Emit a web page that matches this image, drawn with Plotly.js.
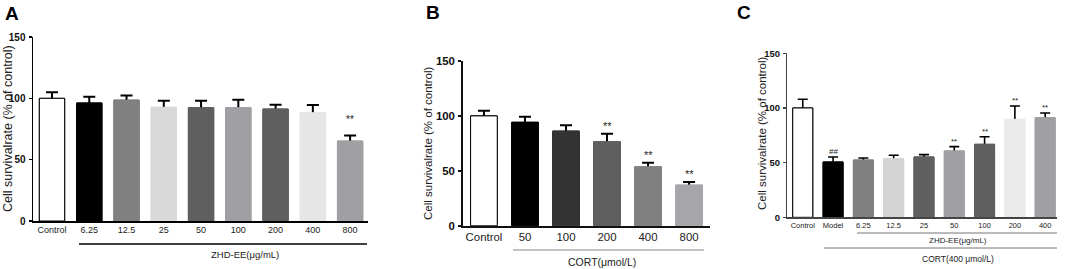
<!DOCTYPE html>
<html><head><meta charset="utf-8">
<script src="https://cdn.plot.ly/plotly-3.0.1.min.js"></script>
<style>html,body{margin:0;padding:0;background:#fff}#chart{width:1065px;height:269px}</style>
</head><body><div id="chart"></div>
<script>
// ---- data ----
const catsA = ['Control','6.25','12.5','25','50','100','200','400','800'];
const valsA = [100, 96.2, 98.6, 92.7, 92.4, 92.4, 91.3, 88.3, 65.2];
const errA  = [4.9, 5.1, 3.7, 5.3, 5.6, 6.5, 3.5, 6.3, 4.6];
const sigA  = ['','','','','','','','','**'];

const catsB = ['Control','50','100','200','400','800'];
const valsB = [100, 94.2, 86.2, 76.5, 53.7, 37.0];
const errB  = [4.7, 5.1, 5.2, 7.3, 3.7, 2.8];
const sigB  = ['','','','**','**','**'];

const catsC = ['Control','Model','6.25','12.5','25','50','100','200','400'];
const valsC = [100, 50.6, 52.4, 53.6, 55.2, 60.7, 66.8, 89.6, 91.1];
const errC  = [8.0, 4.6, 1.8, 3.1, 2.1, 3.9, 6.9, 12.2, 4.3];
const sigC  = ['','##','','','','**','**','**','**'];

const yTicks = [0, 50, 100, 150];
const yTitle = 'Cell survivalrate (% of control)';
const groupA = 'ZHD-EE(μg/mL)';
const groupB = 'CORT(μmol/L)';
const groupC1 = 'ZHD-EE(μg/mL)';
const groupC2 = 'CORT(400 μmol/L)';

// ---- styles ----
const FONT = 'Liberation Sans, Arial, sans-serif';
const colA = ['#ffffff','#000000','#808080','#d9d9d9','#5f5f5f','#a0a0a4','#5f5f5f','#e6e6e6','#a0a0a4'];
const colB = ['#ffffff','#000000','#333333','#5f5f5f','#808080','#a6a6aa'];
const colC = ['#ffffff','#000000','#808080','#d4d4d4','#5f5f5f','#a0a0a4','#5f5f5f','#eaeaea','#a0a0a4'];

function idx(a){ return a.map((_, i) => i); }
function barTrace(cats, vals, errs, cols, xa, ya, w, ew, et, withErr){
  const t = {
    type: 'bar', x: idx(cats), y: vals, xaxis: xa, yaxis: ya, width: w,
    marker: {color: cols, line: {color: cols.map((c,i)=> i===0 ? '#000' : c), width: 1}},
    hoverinfo: 'none', showlegend: false
  };
  if (withErr) t.error_y = {type: 'data', array: errs, symmetric: true,
              color: '#000', thickness: et, width: ew, visible: true};
  return t;
}
const data = [
  barTrace(catsA, valsA, errA, colA, 'x', 'y', 0.68, 6, 2, true),
  barTrace(catsA, valsA, errA, colA, 'x', 'y', 0.68, 6, 2, false),
  barTrace(catsB, valsB, errB, colB, 'x2', 'y2', 0.65, 6, 2, true),
  barTrace(catsB, valsB, errB, colB, 'x2', 'y2', 0.65, 6, 2, false),
  barTrace(catsC, valsC, errC, colC, 'x3', 'y3', 0.66, 5, 1.6, true),
  barTrace(catsC, valsC, errC, colC, 'x3', 'y3', 0.66, 5, 1.6, false)
];

function xAxis(cats, dom, range, anchor, fs, lc, lw){
  return {domain: dom, range: range, anchor: anchor, tickmode: 'array', tickvals: idx(cats), ticktext: cats,
    ticks: '', showline: true, linecolor: lc, linewidth: lw, showgrid: false, zeroline: false,
    tickfont: {family: FONT, size: fs, color: '#222'}, fixedrange: true};
}
function yAxis(dom, anchor, fs, lc, lw){
  return {domain: dom, range: [0, 150], anchor: anchor, tickmode: 'array', tickvals: yTicks,
    ticks: 'outside', ticklen: 3, tickwidth: lw, tickcolor: lc, showline: true, linecolor: lc, linewidth: lw,
    showgrid: false, zeroline: false, ticklabelstandoff: 1,
    tickfont: {family: FONT, size: fs, color: '#111', weight: 'bold'}, fixedrange: true};
}

const dA = {x: [33/1065, 368/1065], y: [1-221/269, 1-37/269]};
const dB = {x: [463/1065, 710/1065], y: [1-225.7/269, 1-61/269]};
const dC = {x: [787/1065, 1057/1065], y: [1-217.3/269, 1-53.3/269]};

const annotations = [];
function sig(cats, vals, errs, s, xr, yr, fs, shift){
  s.forEach((t, i) => { if (t) annotations.push({xref: xr, yref: yr, x: i, y: vals[i] + errs[i], text: t,
    showarrow: false, yanchor: 'bottom', yshift: shift, font: {family: FONT, size: fs, color: '#222'}}); });
}
sig(catsA, valsA, errA, sigA, 'x', 'y', 10, 8);
sig(catsB, valsB, errB, sigB, 'x2', 'y2', 11, 0);
sig(catsC, valsC, errC, sigC, 'x3', 'y3', 8, -1);

function pText(t, x, y, fs, opts){
  annotations.push(Object.assign({xref: 'paper', yref: 'paper', x: x/1065, y: 1 - y/269, text: t, showarrow: false,
    xanchor: 'center', yanchor: 'middle', font: {family: FONT, size: fs, color: '#222'}}, opts || {}));
}
// panel letters
pText('<b>A</b>', 12, 14, 19, {font: {family: FONT, size: 19, color: '#000'}});
pText('<b>B</b>', 433, 12, 19, {font: {family: FONT, size: 19, color: '#000'}});
pText('<b>C</b>', 744, 12, 19, {font: {family: FONT, size: 19, color: '#000'}});
// y titles
pText(yTitle, 8, 129, 12.5, {textangle: -90});
pText(yTitle, 428, 143, 11.5, {textangle: -90});
pText(yTitle, 762, 133, 11.5, {textangle: -90});
// group labels
pText(groupA, 245, 254, 9.5);
pText(groupB, 602, 262, 10.5);
pText(groupC1, 958, 240, 8);
pText(groupC2, 958, 259, 8.5);

function hline(x0, x1, y, c, w){
  return {type: 'line', xref: 'paper', yref: 'paper', x0: x0/1065, x1: x1/1065, y0: 1-y/269, y1: 1-y/269,
    line: {color: c, width: w}};
}
const shapes = [
  hline(79, 367, 244, '#000', 1.5),
  hline(513, 704, 250, '#888', 1.2),
  hline(857, 1057, 233, '#777', 1),
  hline(824, 1057, 248, '#777', 1)
];

const layout = {
  width: 1065, height: 269, margin: {l: 0, r: 0, t: 0, b: 0}, paper_bgcolor: '#fff', plot_bgcolor: 'rgba(0,0,0,0)',
  showlegend: false, barmode: 'overlay', bargap: 0, font: {family: FONT},
  xaxis: xAxis(catsA, dA.x, [-0.51, 8.48], 'y', 9, '#000', 1.5),
  yaxis: yAxis(dA.y, 'x', 10, '#000', 1.5),
  xaxis2: xAxis(catsB, dB.x, [-0.51, 5.51], 'y2', 11.4, '#111', 1.8),
  yaxis2: yAxis(dB.y, 'x2', 11.4, '#111', 1.8),
  xaxis3: xAxis(catsC, dC.x, [-0.52, 8.39], 'y3', 7.5, '#444', 1.2),
  yaxis3: yAxis(dC.y, 'x3', 9.4, '#444', 1.2),
  annotations: annotations, shapes: shapes
};
Plotly.newPlot('chart', data, layout, {staticPlot: true, displayModeBar: false});
</script></body></html>
